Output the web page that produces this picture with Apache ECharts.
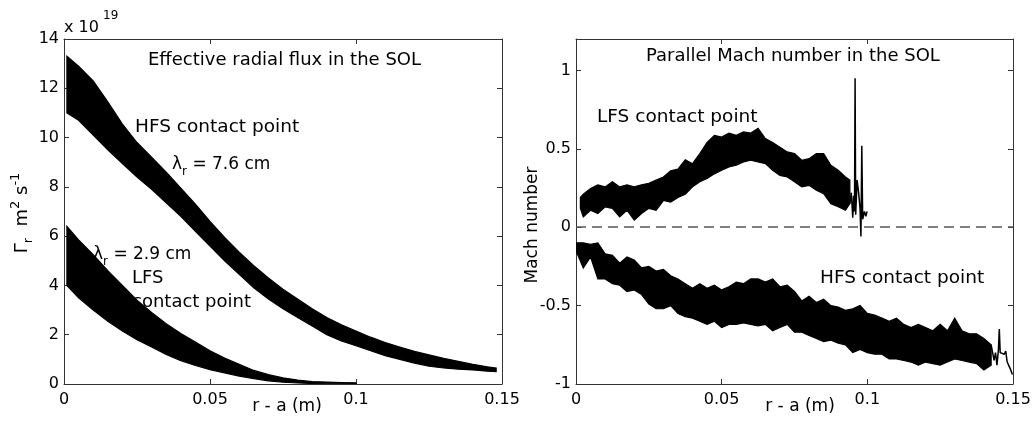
<!DOCTYPE html>
<html><head><meta charset="utf-8">
<script src="https://cdn.jsdelivr.net/npm/echarts@6/dist/echarts.min.js"></script>
<style>html,body{margin:0;padding:0;background:#fff}#c{width:1036px;height:421px}</style>
</head><body><div id="c"></div>
<script>
const FONT = 'DejaVu Sans';

// ---- Left panel: effective radial flux (units of 1e19 m^-2 s^-1) ----
const fluxHfsX = [0.001,0.005,0.010,0.015,0.020,0.025,0.030,0.035,0.040,0.045,0.050,0.055,0.060,0.065,0.070,0.075,0.080,0.085,0.090,0.095,0.100,0.105,0.110,0.115,0.120,0.125,0.130,0.135,0.140,0.145,0.148];
const fluxHfsUpper = [13.3,12.9,12.3,11.45,10.55,9.8,9.2,8.6,7.95,7.3,6.6,5.95,5.35,4.8,4.3,3.85,3.45,3.05,2.7,2.4,2.15,1.9,1.68,1.5,1.33,1.18,1.04,0.92,0.8,0.7,0.65];
const fluxHfsLower = [11.0,10.7,10.1,9.5,8.95,8.4,7.9,7.35,6.8,6.2,5.6,5.0,4.45,3.9,3.45,3.05,2.7,2.35,2.0,1.75,1.55,1.35,1.15,1.0,0.85,0.72,0.65,0.6,0.57,0.52,0.5];
const fluxLfsX = [0.001,0.005,0.010,0.015,0.020,0.025,0.030,0.035,0.040,0.045,0.050,0.055,0.060,0.065,0.070,0.075,0.080,0.085,0.090,0.095,0.100];
const fluxLfsUpper = [6.4,5.85,5.25,4.6,4.0,3.4,2.9,2.45,2.05,1.7,1.35,1.05,0.8,0.55,0.38,0.25,0.16,0.1,0.08,0.06,0.05];
const fluxLfsLower = [4.0,3.5,3.0,2.55,2.15,1.8,1.5,1.2,0.95,0.75,0.58,0.45,0.32,0.22,0.13,0.07,0.04,0.02,0.01,0.01,0.0];

// ---- Right panel: parallel Mach number ----
const machLfsX = [0.0015,0.0025,0.005,0.0075,0.01,0.0125,0.015,0.0175,0.02,0.0225,0.025,0.0275,0.03,0.0325,0.035,0.0375,0.04,0.0425,0.045,0.0475,0.05,0.0525,0.055,0.0575,0.06,0.0625,0.065,0.0675,0.07,0.0725,0.075,0.0775,0.08,0.0825,0.085,0.0875,0.09,0.0925,0.094];
const machLfsUpper = [0.19,0.21,0.246,0.27,0.257,0.29,0.257,0.27,0.257,0.27,0.28,0.30,0.32,0.36,0.37,0.43,0.405,0.47,0.54,0.586,0.575,0.60,0.586,0.607,0.60,0.63,0.565,0.54,0.51,0.48,0.47,0.427,0.437,0.47,0.47,0.395,0.363,0.32,0.30];
const machLfsLower = [0.12,0.066,0.108,0.087,0.13,0.12,0.066,0.108,0.045,0.087,0.12,0.108,0.17,0.16,0.19,0.21,0.257,0.29,0.31,0.34,0.363,0.384,0.395,0.416,0.427,0.416,0.405,0.363,0.33,0.32,0.29,0.257,0.267,0.236,0.214,0.15,0.13,0.108,0.15];
const machLfsTailX = [0.094,0.0945,0.095,0.0953,0.0956,0.0958,0.096,0.0965,0.097,0.0975,0.0978,0.0981,0.0984,0.099,0.0995,0.0999];
const machLfsTailY = [0.15,0.22,0.06,0.2,0.1,0.95,0.08,0.3,0.22,0.12,-0.06,0.52,0.05,0.1,0.07,0.1];

const machHfsX = [0,0.0025,0.005,0.0075,0.01,0.0125,0.015,0.0175,0.02,0.0225,0.025,0.0275,0.03,0.0325,0.035,0.0375,0.04,0.0425,0.045,0.0475,0.05,0.0525,0.055,0.0575,0.06,0.0625,0.065,0.0675,0.07,0.0725,0.075,0.0775,0.08,0.0825,0.085,0.0875,0.09,0.0925,0.095,0.0975,0.1,0.1025,0.105,0.1075,0.11,0.1125,0.115,0.1175,0.12,0.1225,0.125,0.1275,0.13,0.1325,0.135,0.1375,0.14,0.1425];
const machHfsUpper = [-0.10,-0.10,-0.11,-0.10,-0.17,-0.18,-0.23,-0.19,-0.21,-0.26,-0.25,-0.28,-0.27,-0.31,-0.33,-0.36,-0.39,-0.36,-0.39,-0.37,-0.40,-0.38,-0.35,-0.36,-0.33,-0.33,-0.35,-0.33,-0.38,-0.37,-0.41,-0.47,-0.44,-0.48,-0.46,-0.50,-0.51,-0.53,-0.52,-0.50,-0.55,-0.56,-0.58,-0.60,-0.58,-0.62,-0.64,-0.62,-0.64,-0.66,-0.62,-0.66,-0.58,-0.66,-0.68,-0.68,-0.71,-0.75];
const machHfsLower = [-0.15,-0.26,-0.19,-0.33,-0.33,-0.36,-0.37,-0.41,-0.40,-0.43,-0.49,-0.52,-0.52,-0.50,-0.55,-0.57,-0.58,-0.60,-0.62,-0.60,-0.64,-0.62,-0.62,-0.61,-0.62,-0.63,-0.62,-0.66,-0.64,-0.62,-0.67,-0.67,-0.69,-0.71,-0.73,-0.72,-0.74,-0.75,-0.80,-0.78,-0.80,-0.81,-0.81,-0.84,-0.84,-0.85,-0.86,-0.88,-0.86,-0.87,-0.88,-0.86,-0.84,-0.85,-0.86,-0.87,-0.91,-0.88];
const machHfsTailX = [0.1425,0.1435,0.144,0.1445,0.145,0.1453,0.1456,0.146,0.147,0.1475,0.148,0.149,0.1498];
const machHfsTailY = [-0.75,-0.85,-0.80,-0.88,-0.78,-0.65,-0.80,-0.81,-0.81,-0.79,-0.86,-0.90,-0.94];

function pairs(xs, ys) { return xs.map((x, i) => [x, ys[i]]); }
// filled band between lower and upper envelope, positioned through the axes' scales
function band(id, xs, lo, up, gi) {
  return { type: 'custom', name: id, xAxisIndex: gi * 2, yAxisIndex: gi * 2, silent: true, animation: false,
    data: [[xs[0], lo[0]]], clip: true,
    renderItem: function (params, api) {
      const pts = [];
      for (let i = 0; i < xs.length; i++) pts.push(api.coord([xs[i], up[i]]));
      for (let i = xs.length - 1; i >= 0; i--) pts.push(api.coord([xs[i], lo[i]]));
      return { type: 'polygon', shape: { points: pts }, style: { fill: '#000', stroke: '#000', lineWidth: 1.2, lineJoin: 'miter' } };
    } };
}

const axisColor = '#333';
function xAx(gi, pos, show) {
  return { gridIndex: gi, type: 'value', min: 0, max: 0.15, interval: 0.05, position: pos,
    axisLine: { show: true, onZero: false, lineStyle: { color: axisColor, width: 1 } },
    axisTick: { show: true, inside: true, length: 5, lineStyle: { color: axisColor } },
    axisLabel: { show: show, color: '#000', fontFamily: FONT, fontSize: 16, margin: 8 },
    splitLine: { show: false } };
}
function yAx(gi, pos, show, min, max, interval) {
  return { gridIndex: gi, type: 'value', min: min, max: max, interval: interval, position: pos,
    axisLine: { show: true, onZero: false, lineStyle: { color: axisColor, width: 1 } },
    axisTick: { show: true, inside: true, length: 5, lineStyle: { color: axisColor } },
    axisLabel: { show: show, color: '#000', fontFamily: FONT, fontSize: 16, margin: 5, showMaxLabel: max === 14 },
    splitLine: { show: false } };
}
function txt(x, y, text, size, align, extra) {
  return Object.assign({ type: 'text', x: x, y: y, silent: true,
    style: { text: text, fontFamily: FONT, fontSize: size, fill: '#000', align: align || 'left', verticalAlign: 'middle' } }, extra || {});
}
function richTxt(x, y, text, size, align, rotation) {
  return { type: 'text', x: x, y: y, rotation: rotation || 0, silent: true,
    style: { text: text, fontFamily: FONT, fontSize: size, fill: '#000', align: align || 'left', verticalAlign: 'middle',
      rich: {
        m: { fontFamily: FONT, fontSize: size, lineHeight: 26, verticalAlign: 'middle' },
        sub: { fontFamily: FONT, fontSize: Math.round(size * 0.7), lineHeight: 16, verticalAlign: 'bottom' },
        sup: { fontFamily: FONT, fontSize: Math.round(size * 0.7), lineHeight: 16, verticalAlign: 'top' }
      } } };
}

const chart = echarts.init(document.getElementById('c'), null, { renderer: 'canvas' });
const series = [
  band('fh', fluxHfsX, fluxHfsLower, fluxHfsUpper, 0),
  band('fl', fluxLfsX, fluxLfsLower, fluxLfsUpper, 0),
  band('ml', machLfsX, machLfsLower, machLfsUpper, 1),
  band('mh', machHfsX, machHfsLower, machHfsUpper, 1),
  { type: 'line', name: 'mlTail', xAxisIndex: 2, yAxisIndex: 2, symbol: 'none', silent: true, animation: false,
    data: pairs(machLfsTailX, machLfsTailY), lineStyle: { color: '#000', width: 1.5 } },
  { type: 'line', name: 'mhTail', xAxisIndex: 2, yAxisIndex: 2, symbol: 'none', silent: true, animation: false,
    data: pairs(machHfsTailX, machHfsTailY), lineStyle: { color: '#000', width: 1.5 } },
  { type: 'line', name: 'zero', xAxisIndex: 2, yAxisIndex: 2, symbol: 'none', silent: true, animation: false,
    data: [], z: 1,
    markLine: { silent: true, symbol: ['none', 'none'], label: { show: false }, animation: false,
      lineStyle: { color: '#555', type: [10, 6], width: 1.5 }, data: [{ yAxis: 0 }] } }
];

chart.setOption({
  animation: false,
  backgroundColor: '#fff',
  grid: [
    { left: 64, top: 39, width: 438, height: 345, containLabel: false, outerBoundsMode: 'none' },
    { left: 576, top: 39, width: 437, height: 345, containLabel: false, outerBoundsMode: 'none' }
  ],
  xAxis: [xAx(0, 'bottom', true), xAx(0, 'top', false), xAx(1, 'bottom', true), xAx(1, 'top', false)],
  yAxis: [yAx(0, 'left', true, 0, 14, 2), yAx(0, 'right', false, 0, 14, 2),
          yAx(1, 'left', true, -1, 1.2, 0.5), yAx(1, 'right', false, -1, 1.2, 0.5)],
  series: series,
  graphic: [
    txt(64, 28, 'x 10', 16),
    txt(103, 16, '19', 12),
    txt(148, 60, 'Effective radial flux in the SOL', 18),
    txt(135, 127, 'HFS contact point', 18.5),
    richTxt(172, 165, '{m|λ}{sub|r}{m| = 7.6 cm}', 17),
    richTxt(93, 255, '{m|λ}{sub|r}{m| = 2.9 cm}', 17),
    txt(132, 278, 'LFS', 18),
    txt(132, 302, 'contact point', 18),
    txt(287, 407, 'r - a (m)', 17, 'center'),
    txt(800, 407, 'r - a (m)', 17, 'center'),
    txt(646, 56, 'Parallel Mach number in the SOL', 18),
    txt(597, 117, 'LFS contact point', 18.5),
    txt(820, 278, 'HFS contact point', 18.5),
    richTxt(22, 213, '{m|Γ}{sub|r}{m|  m}{sup|2}{m| s}{sup|-1}', 18, 'center', Math.PI / 2),
    txt(533, 225, 'Mach number', 17, 'center', { rotation: Math.PI / 2 })
  ]
});
</script>
</body></html>
